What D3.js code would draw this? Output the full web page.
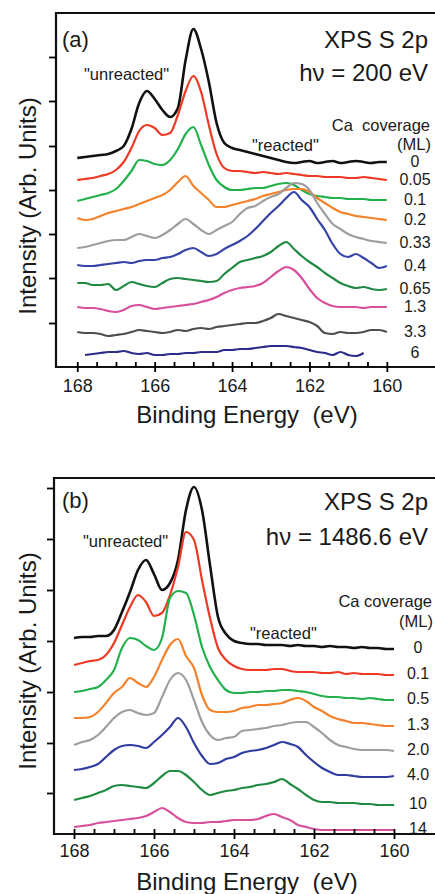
<!DOCTYPE html>
<html>
<head>
<meta charset="utf-8">
<script src="https://cdn.jsdelivr.net/npm/d3@7/dist/d3.min.js"></script>
<style>
  body { margin: 0; background: #fff; }
  svg text { font-family: "Liberation Sans", Arial, sans-serif; fill: #1a1a1a; }
</style>
</head>
<body>
<div id="chart"></div>
<script>
const width = 435, height = 894;

// binding energy grid (eV) shared by every spectrum
const energy = [168.0, 167.8, 167.6, 167.4, 167.2, 167.0, 166.8, 166.6, 166.4, 166.2,
  166.0, 165.8, 165.6, 165.4, 165.2, 165.0, 164.8, 164.6, 164.4, 164.2,
  164.0, 163.8, 163.6, 163.4, 163.2, 163.0, 162.8, 162.6, 162.4, 162.2,
  162.0, 161.8, 161.6, 161.4, 161.2, 161.0, 160.8, 160.6, 160.4, 160.2, 160.0];

const energyLabels = [168, 166, 164, 162, 160];
const energyMinor = [167.5, 167, 166.5, 165.5, 165, 164.5, 163.5, 163, 162.5, 161.5, 161, 160.5];

// ---- panel (a): hv = 200 eV, intensities in arb. units (offset stack) ----
const coverageA = ["0", "0.05", "0.1", "0.2", "0.33", "0.4", "0.65", "1.3", "3.3", "6"];
const a0    = [209,210,211,212,213,216, 221,238,264,276,268,257, 250,259,307,338,318,285, 244,224,219,217,215,213, 211,209,207,205,204,205, 206,204,205,206,204,205, 206,205,204,205,205];
const a005  = [187,188,189,191,193,197, 205,219,236,242,239,232, 234,252,276,291,275,242, 213,199,196,196,195,194, 195,194,193,194,193,192, 191,191,190,190,190,189, 189,190,189,188,187];
const a01   = [166,168,170,172,174,178, 186,196,207,206,203,202, 207,218,233,240,222,202, 187,180,177,177,178,179, 179,181,183,184,182,177, 173,171,170,169,169,168, 168,168,167,167,167];
const a02   = [149,147,148,151,154,156, 158,160,163,166,169,172, 177,185,191,181,174,167, 160,160,162,164,166,168, 171,173,175,177,178,178, 175,169,164,159,155,153, 151,150,149,148,147];
const a033  = [119,120,122,124,126,127, 127,130,133,131,129,132, 137,143,148,143,137,133, 137,141,145,153,159,161, 166,170,173,179,184,183, 177,164,153,143,138,133, 130,128,126,125,124];
const a04   = [102,101,101,102,103,104, 105,104,106,107,107,109, 110,113,117,119,115,111, 113,118,122,126,131,138, 146,154,161,169,175,167, 160,148,137,123,113,110, 113,109,104,99,101];
const a065  = [84,84,82,82,83,77, 81,85,83,81,80,84, 88,89,88,87,86,85, 86,93,99,105,107,109, 111,115,121,125,118,111, 105,100,94,89,84,81, 79,80,78,77,78];
const a13   = [60,59,59,58,56,55, 57,61,62,60,58,59, 60,61,62,63,65,67, 70,74,77,79,80,81, 84,90,96,100,97,89, 78,69,64,61,60,60, 60,59,60,60,60];
const a33   = [35,34,34,33,31,32, 33,35,37,36,35,34, 35,37,36,38,39,38, 40,41,42,43,44,44, 46,49,53,51,49,47, 45,41,34,33,35,34, 34,35,37,37,35];
const a6    = [null,12,13,14,15,15, 16,14,13,14,12,12, 13,13,14,14,15,15, 15,17,17,18,18,19, 20,21,21,21,20,19, 17,15,14,12,15,12, 11,14,null,null,null];
const spectraA = [a0, a005, a01, a02, a033, a04, a065, a13, a33, a6];
const coloursA = ["#111111", "#ee3a24", "#22b14c", "#f5822a", "#9e9e9e", "#3443a6", "#1f8a41", "#d8509c", "#4e4e4e", "#2d2b8c"];

// ---- panel (b): hv = 1486.6 eV ----
const coverageB = ["0", "0.1", "0.5", "1.3", "2.0", "4.0", "10", "14"];
const b0   = [196,197,197,198,198,204, 222,242,264,274,260,244, 251,274,324,347,324,269, 217,200,193,191,190,190, 189,189,189,188,189,188, 188,187,188,187,187,186, 187,186,186,185,185];
const b01  = [169,171,173,174,179,191, 209,227,239,232,218,221, 239,267,302,294,254,216, 186,174,168,165,164,164, 164,165,165,163,162,162, 162,161,161,162,160,161, 160,160,160,159,159];
const b05  = [142,143,145,147,154,164, 186,196,194,188,184,196, 236,243,241,219,187,167, 154,144,141,141,142,142, 143,143,144,144,143,142, 140,138,137,137,136,136, 135,136,135,134,134];
const b13  = [116,116,117,122,131,141, 147,156,151,147,157,174, 189,195,178,166,139,124, 122,122,123,126,127,129, 129,130,131,134,136,133, 127,123,118,115,113,111, 111,110,109,108,108];
const b20  = [89,92,94,99,107,116, 122,124,121,119,121,137, 154,161,154,134,112,99, 94,96,97,103,104,105, 106,108,109,111,112,112, 107,101,94,89,87,85, 84,84,84,84,83];
const b40  = [64,65,67,70,77,84, 88,89,88,86,92,99, 107,116,107,91,78,70, 71,75,77,81,83,84, 86,89,92,90,87,79, 72,66,62,59,59,58, 57,57,57,57,58];
const b10  = [34,36,38,41,44,48, 49,48,47,46,51,58, 63,63,59,52,44,39, 41,43,44,46,47,49, 50,52,55,50,45,39, 34,32,32,31,31,31, 30,30,29,29,29];
const b14  = [7,8,9,11,12,13, 14,15,16,18,22,26, 22,16,12,11,11,12, 12,13,14,14,14,15, 18,20,17,14,9,7, 5,4,4,4,4,4, 4,4,4,4,4];
const spectraB = [b0, b01, b05, b13, b20, b40, b10, b14];
const coloursB = ["#111111", "#ee3a24", "#22b14c", "#f5822a", "#9e9e9e", "#2f3c9f", "#1f8a41", "#d8509c"];

const svg = d3.select("#chart")
    .append("svg")
    .attr("width", width)
    .attr("height", height)
    .attr("viewBox", `0 0 ${width} ${height}`);

const lastValue = s => s.filter(v => v != null).slice(-1)[0];

const addText = (g, txt, x, y, size, anchor) =>
    g.append("text")
        .attr("x", x)
        .attr("y", y)
        .attr("text-anchor", anchor)
        .style("font-size", `${size}px`)
        .style("white-space", "pre")
        .text(txt);

const drawPanel = (p) => {
    const x = d3.scaleLinear().domain(p.xDomain).range(p.xRange);
    const y = d3.scaleLinear().domain([0, p.yMax]).range(p.yRange);
    const [xl, xr] = p.xRange;
    const [yb, yt] = p.yRange;
    const g = svg.append("g");

    const line = d3.line()
        .defined(d => d[1] != null)
        .x(d => x(d[0]))
        .y(d => y(d[1]))
        .curve(d3.curveMonotoneX);

    // spectra
    g.selectAll(".spectrum")
        .data(p.spectra)
        .join("path")
        .attr("class", "spectrum")
        .attr("fill", "none")
        .attr("stroke", (d, i) => p.colours[i])
        .attr("stroke-width", (d, i) => i === 0 ? 2.6 : 2.2)
        .attr("stroke-linejoin", "round")
        .attr("d", s => line(energy.map((e, j) => [e, s[j]])));

    // coverage labels next to curve ends
    g.selectAll(".cov")
        .data(p.coverage)
        .join("text")
        .attr("class", "cov")
        .attr("x", p.labelX)
        .attr("y", (d, i) => y(lastValue(p.spectra[i])) + p.labelDy)
        .attr("text-anchor", "middle")
        .style("font-size", "16px")
        .text(d => d);

    // frame (right side runs off the page)
    g.append("path")
        .attr("d", `M${xr},${yt}H${xl}V${yb}H${xr}`)
        .attr("fill", "none")
        .attr("stroke", "#111")
        .attr("stroke-width", 2.2);

    // x axis: labelled majors poke out, every 0.5 eV ticks point in
    const bottom = g.append("g")
        .attr("transform", `translate(0, ${yb})`)
        .call(d3.axisBottom(x).tickValues(energyLabels).tickSizeInner(5).tickSizeOuter(0)
            .tickPadding(p.tickPad).tickFormat(d3.format("d")));
    bottom.select(".domain").remove();
    bottom.selectAll("line").attr("stroke-width", 1.8);
    bottom.selectAll("text").style("font-size", "18px");

    const inner = g.append("g")
        .attr("transform", `translate(0, ${yb})`)
        .call(d3.axisBottom(x).tickValues(energyLabels.concat(energyMinor)).tickSize(-5).tickFormat(""));
    inner.select(".domain").remove();
    inner.selectAll("line").attr("stroke-width", 1.8);

    // y axis, unlabelled ticks
    const left = g.append("g")
        .attr("transform", `translate(${xl}, 0)`)
        .call(d3.axisLeft(y).tickValues(p.yTicks).tickSize(7).tickFormat(""));
    left.select(".domain").remove();
    left.selectAll("line").attr("stroke-width", 1.8);

    // axis titles
    addText(g, "Binding Energy  (eV)", 247, p.xTitleY, 24, "middle");
    g.append("text")
        .attr("transform", `translate(36, ${p.yTitleCy}) rotate(-90)`)
        .attr("text-anchor", "middle")
        .style("font-size", "24px")
        .text("Intensity (Arb. Units)");

    // annotations
    p.notes.forEach(n => addText(g, n[0], n[1], n[2], n[3], n[4]));
};

drawPanel({
    xDomain: [168.55, 158.6], xRange: [56, 441],
    yMax: 354, yRange: [367, 13],
    yTicks: [44, 89, 133, 177, 221, 266, 310],
    spectra: spectraA, colours: coloursA, coverage: coverageA,
    labelX: 415, labelDy: 5, tickPad: 7,
    xTitleY: 423, yTitleCy: 206,
    notes: [
        ["(a)", 62, 47, 22, "start"],
        ["XPS S 2p", 428, 48, 24, "end"],
        ["h\u03bd = 200 eV", 428, 81, 24, "end"],
        ["\"unreacted\"", 84, 80, 16.5, "start"],
        ["\"reacted\"", 252, 151, 16.5, "start"],
        ["Ca  coverage", 430, 131, 16.5, "end"],
        ["(ML)", 431, 150, 16.5, "end"]
    ]
});

drawPanel({
    xDomain: [168.5, 158.8], xRange: [54, 442],
    yMax: 356, yRange: [834, 478],
    yTicks: [41, 91, 142, 193, 244, 295, 346],
    spectra: spectraB, colours: coloursB, coverage: coverageB,
    labelX: 418, labelDy: 4, tickPad: 5,
    xTitleY: 890, yTitleCy: 661,
    notes: [
        ["(b)", 62, 508, 22, "start"],
        ["XPS S 2p", 428, 510, 24, "end"],
        ["h\u03bd = 1486.6 eV", 428, 545, 24, "end"],
        ["\"unreacted\"", 83, 547, 16.5, "start"],
        ["\"reacted\"", 250, 639, 16.5, "start"],
        ["Ca coverage", 432, 607, 16.5, "end"],
        ["(ML)", 433, 627, 16.5, "end"]
    ]
});
</script>
</body>
</html>
